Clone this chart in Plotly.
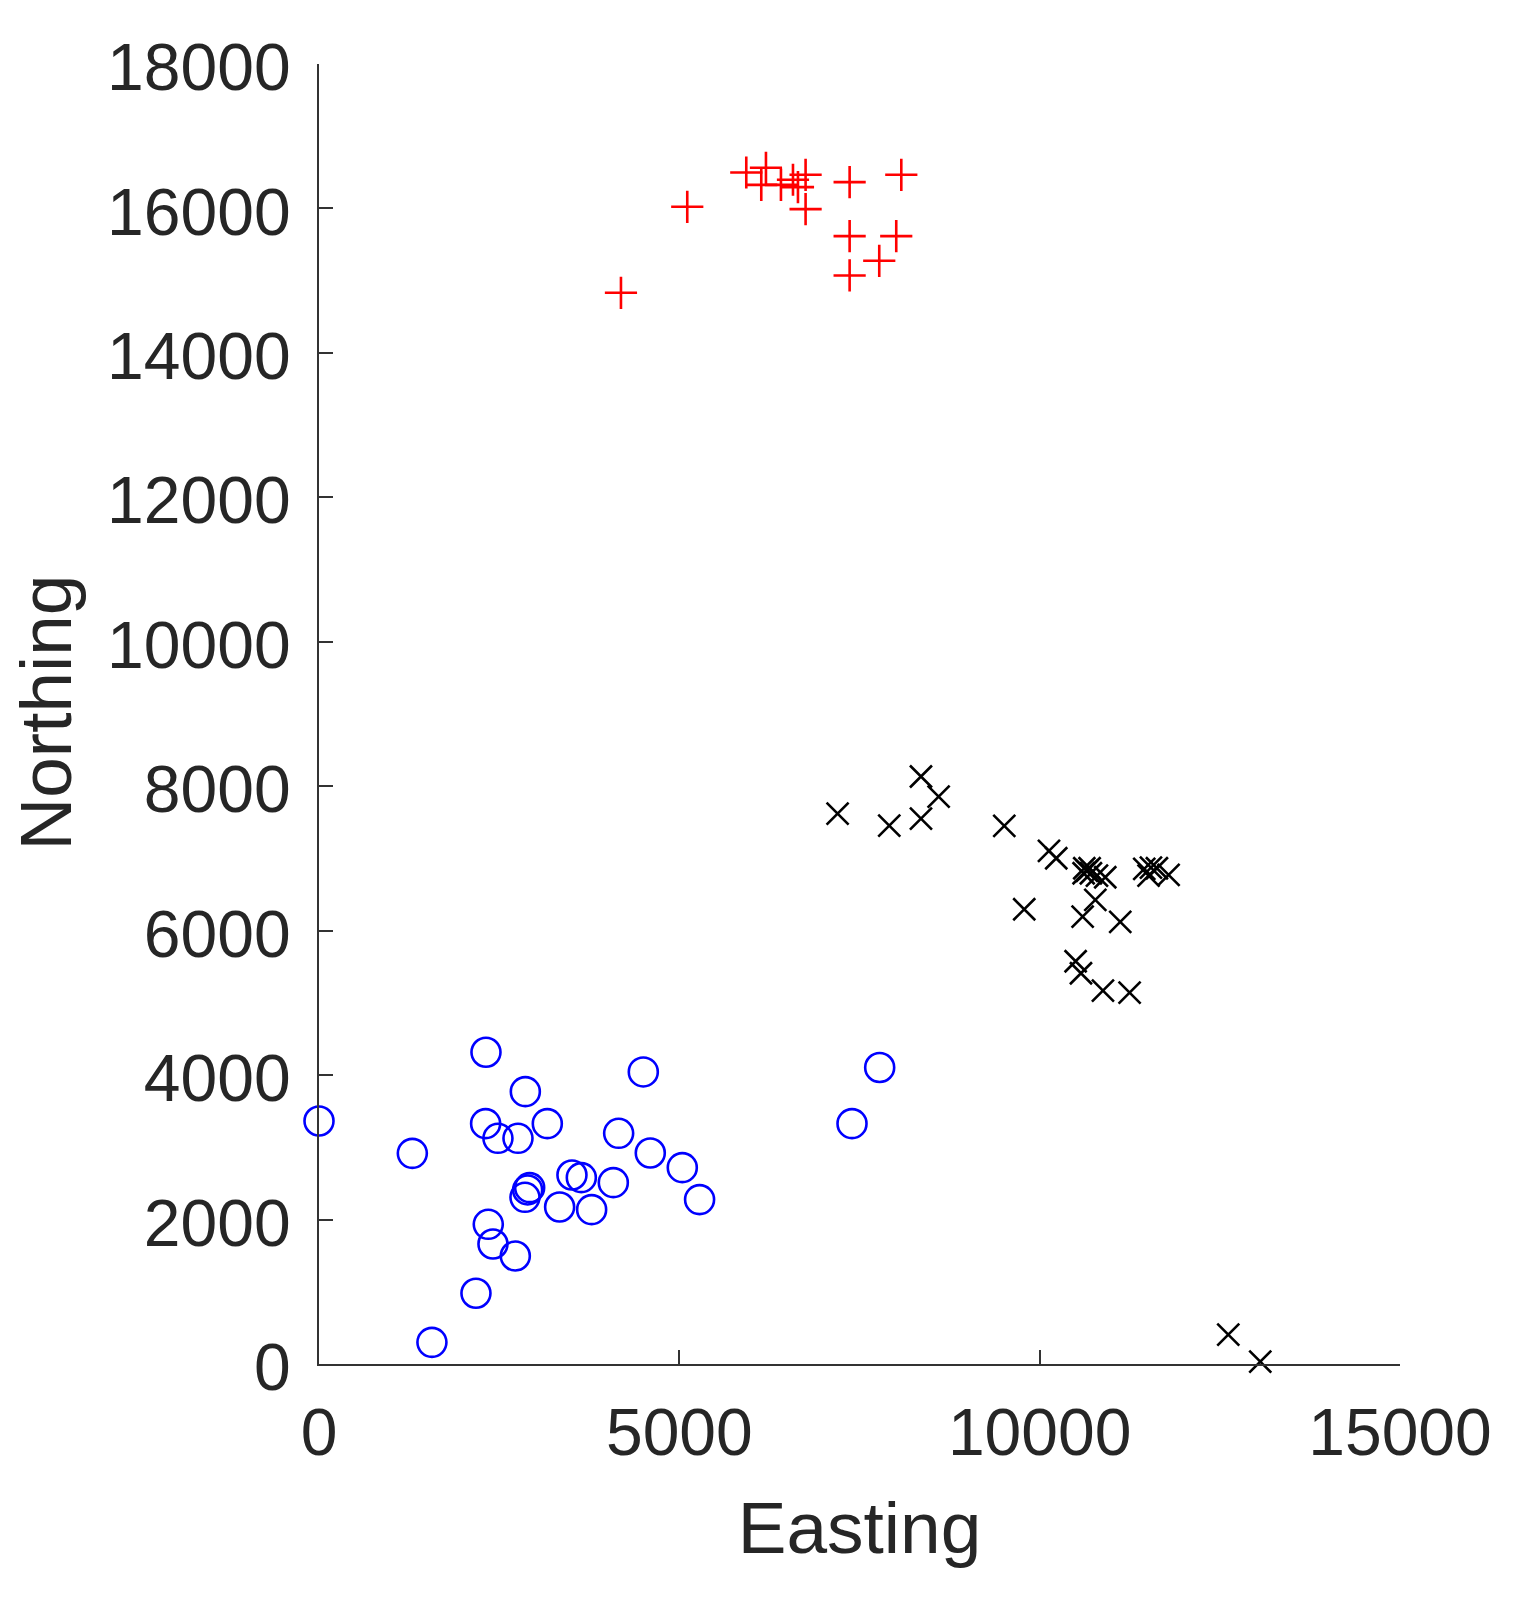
"""plot.py - Easting / Northing scatter of three groups"""

import plotly.graph_objects as go

# Group values
red_east = [4190, 5110, 5929, 6202, 6137, 6410, 6577, 6646, 6752, 6752, 7363, 8080, 7363, 8010, 7774, 7363]
red_north = [14832, 16023, 16498, 16563, 16327, 16327, 16397, 16295, 16466, 15990, 16364, 16466, 15617, 15617, 15275, 15072]

black_east = [7196, 7913, 8353, 8598, 8353, 9509, 10129, 10230, 9786, 10772, 10596, 11118, 10499, 10573,
              10878, 11248, 12617, 13061, 10619, 10656, 10693, 10610, 10711, 10795, 10910,
              11451, 11544, 11627, 11511, 11789]
black_north = [7621, 7455, 8134, 7857, 7552, 7450, 7104, 7003, 6296, 6426, 6195, 6121, 5576, 5410,
               5170, 5142, 406, 32, 6864, 6827, 6864, 6795, 6795, 6763, 6740,
               6855, 6873, 6864, 6763, 6772]

blue_east = [2317, 4500, 2863, 2312, 2483, 2761, 3168, 4158, 4597, 5041, 5281, 3510, 3640, 4084, 3339, 3783,
             2923, 2895, 2858, 2349, 2414, 2724, 0, 1295, 2178, 1567, 7780, 7396]
blue_north = [4316, 4044, 3771, 3328, 3125, 3125, 3328, 3194, 2922, 2719, 2276, 2617, 2580, 2511, 2174, 2137,
              2442, 2410, 2308, 1934, 1662, 1496, 3365, 2917, 979, 300, 4106, 3328]

x_ticks = [0, 5000, 10000, 15000]
x_labels = ['0', '5000', '10000', '15000']
y_ticks = [0, 2000, 4000, 6000, 8000, 10000, 12000, 14000, 16000, 18000]
y_labels = ['0', '2000', '4000', '6000', '8000', '10000', '12000', '14000', '16000', '18000']

axis_color = '#333333'
text_color = '#262626'
font_name = 'Liberation Sans'

fig = go.Figure()

fig.add_trace(go.Scatter(x=red_east, y=red_north, mode='markers', cliponaxis=False,
                         marker=dict(symbol='cross-thin-open', size=23, color='#ff0000',
                                     line=dict(color='#ff0000', width=2.6))))
fig.add_trace(go.Scatter(x=black_east, y=black_north, mode='markers', cliponaxis=False,
                         marker=dict(symbol='x-thin-open', size=22, color='#000000',
                                     line=dict(color='#000000', width=2.6))))
fig.add_trace(go.Scatter(x=blue_east, y=blue_north, mode='markers', cliponaxis=False,
                         marker=dict(symbol='circle-open', size=29, color='#0000ff',
                                     line=dict(color='#0000ff', width=2.6))))

fig.update_xaxes(range=[0, 15000], tickvals=x_ticks, ticktext=x_labels, ticks='inside', ticklen=14, tickwidth=2.4,
                 tickcolor=axis_color, showline=True, linecolor=axis_color, linewidth=2.4,
                 showgrid=False, zeroline=False, ticklabelstandoff=10,
                 tickfont=dict(family=font_name, size=66, color=text_color),
                 title=dict(text='Easting', standoff=33, font=dict(family=font_name, size=73, color=text_color)))
fig.update_yaxes(range=[0, 18000], tickvals=y_ticks, ticktext=y_labels, ticks='inside', ticklen=14, tickwidth=2.4,
                 tickcolor=axis_color, showline=True, linecolor=axis_color, linewidth=2.4,
                 showgrid=False, zeroline=False, ticklabelstandoff=13, ticklabelshift=3,
                 tickfont=dict(family=font_name, size=66, color=text_color))

# y title as annotation, the axis title would not move any closer to the labels
fig.add_annotation(text='Northing', xref='paper', yref='paper', x=0, y=0.5, xshift=-317, yshift=1,
                   textangle=-90, showarrow=False, font=dict(family=font_name, size=73, color=text_color))

fig.update_layout(width=1519, height=1602, showlegend=False, plot_bgcolor='white', paper_bgcolor='white',
                  margin=dict(l=318.7, r=119.3, t=64.3, b=238))

fig.write_html("out.html", config=dict(displayModeBar=False), post_script="document.body.style.margin='0';")
